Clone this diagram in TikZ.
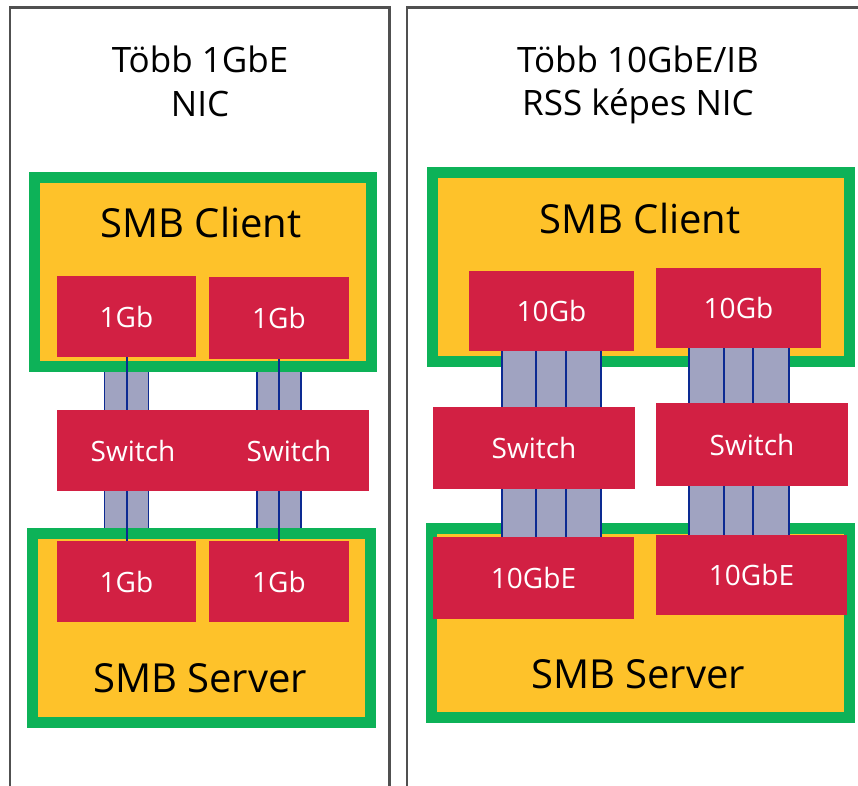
\documentclass[tikz,border=0pt]{standalone}
\usepackage{fontspec}
\setmainfont{Open Sans}
\usetikzlibrary{calc}
\definecolor{nicred}{HTML}{D22043}
\definecolor{hostyellow}{HTML}{FEC22A}
\definecolor{hostgreen}{HTML}{0DB258}
\definecolor{lanegrey}{HTML}{A0A3C1}
\definecolor{laneblue}{HTML}{0C2A92}
\definecolor{borderg}{HTML}{505050}
\newcommand\lanebundle[5]{%
  \draw[lanefill, line width=#4] (#1 |- #2) -- (#1 |- #3);
  \foreach \o in {#5} \draw[laneline] ($(#1 |- #2)+(\o,0)$) -- ($(#1 |- #3)+(\o,0)$);
}
\begin{document}
\begin{tikzpicture}[x=1pt,y=-1pt,
  panel/.style={draw=borderg, line width=2.5pt},
  host/.style={draw=hostgreen, fill=hostyellow, line width=11pt, outer sep=5.5pt, inner sep=0pt, minimum height=189pt},
  card/.style={fill=nicred, text=white, inner sep=0pt, outer sep=0pt, font=\fontsize{28}{33}\selectfont},
  hosttext/.style={font=\fontsize{40}{48}\selectfont, anchor=base},
  titletext/.style={font=\fontsize{35}{42}\selectfont, anchor=base},
  lanefill/.style={draw=lanegrey},
  laneline/.style={draw=laneblue, line width=1.5pt},
  midline/.style={draw=laneblue, line width=2pt}]
\useasboundingbox (0,0) rectangle (858,785);
\fill[white] (0,0) rectangle (858,785);
% panels
\draw[panel] (10,790) -- (10,7.5) -- (389.5,7.5) -- (389.5,790);
\draw[panel] (407,790) -- (407,7.5) -- (870,7.5);
% titles
\node[titletext] (tl1) at (200,72) {Több 1GbE};
\node[titletext] (tl2) at (200,116) {NIC};
\node[titletext] (tr1) at (638,72) {Több 10GbE/IB};
\node[titletext] (tr2) at (638,115) {RSS képes NIC};
% ---------- left side ----------
\node[host, minimum width=337pt] (cliL) at (203,272) {};
\node[hosttext] (cliLt) at (201,237) {SMB Client};
\node[card, minimum width=139pt, minimum height=81pt] (nicL1) at (126.5,316.5) {1Gb};
\node[card, minimum width=140pt, minimum height=82pt] (nicL2) at (279,318) {1Gb};
\node[host, minimum width=338pt] (srvL) at (201.5,628) {};
\node[hosttext] (srvLt) at (200,692) {SMB Server};
\node[card, minimum width=139pt, minimum height=81pt] (snL1) at (126.5,581.5) {1Gb};
\node[card, minimum width=140pt, minimum height=81pt] (snL2) at (279,581.5) {1Gb};
\node[card, minimum width=152pt, minimum height=81pt] (swL1) at (133,450.5) {Switch};
\node[card, minimum width=160pt, minimum height=81pt] (swL2) at (289,450.5) {Switch};
\lanebundle{nicL1.south}{cliL.south}{swL1.north}{44pt}{-22,22}
\lanebundle{nicL2.south}{cliL.south}{swL2.north}{44pt}{-22,22}
\lanebundle{snL1.north}{swL1.south}{srvL.north}{44pt}{-22,22}
\lanebundle{snL2.north}{swL2.south}{srvL.north}{44pt}{-22,22}
\draw[midline] (nicL1.south) -- (nicL1.south |- swL1.north);
\draw[midline] (nicL2.south) -- (nicL2.south |- swL2.north);
\draw[midline] (snL1.north |- swL1.south) -- (snL1.north);
\draw[midline] (snL2.north |- swL2.south) -- (snL2.north);
% ---------- right side ----------
\node[host, minimum width=417pt] (cliR) at (641,267) {};
\node[hosttext] (cliRt) at (640,233) {SMB Client};
\node[card, minimum width=165pt, minimum height=80pt] (nicR1) at (551.5,311) {10Gb};
\node[card, minimum width=165pt, minimum height=80pt] (nicR2) at (738.5,308) {10Gb};
\node[host, minimum width=418pt] (srvR) at (640.5,623) {};
\node[hosttext] (srvRt) at (638,688) {SMB Server};
\node[card, minimum width=201pt, minimum height=82pt] (snR1) at (533.5,578) {10GbE};
\node[card, minimum width=191pt, minimum height=80pt] (snR2) at (751.5,575) {10GbE};
\node[card, minimum width=202pt, minimum height=82pt] (swR1) at (534,448) {Switch};
\node[card, minimum width=192pt, minimum height=83pt] (swR2) at (752,444.5) {Switch};
\lanebundle{nicR1.south}{nicR1.south}{swR1.north}{99pt}{-49.5,-15.5,14.5,49.5}
\lanebundle{nicR1.south}{swR1.south}{snR1.north}{99pt}{-49.5,-15.5,14.5,49.5}
\lanebundle{nicR2.south}{nicR2.south}{swR2.north}{100pt}{-49.5,-14.5,14.5,50.5}
\lanebundle{nicR2.south}{swR2.south}{snR2.north}{100pt}{-49.5,-14.5,14.5,50.5}
\end{tikzpicture}
\end{document}
